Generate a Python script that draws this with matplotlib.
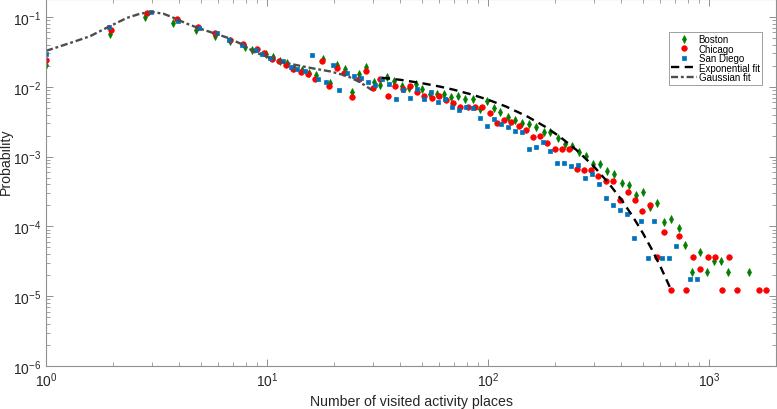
import matplotlib
matplotlib.use('Agg')
import matplotlib.pyplot as plt

plt.rcParams['font.family'] = ['Liberation Sans', 'DejaVu Sans']
plt.rcParams['mathtext.fontset'] = 'custom'
plt.rcParams['mathtext.rm'] = 'Liberation Sans'
plt.rcParams['axes.unicode_minus'] = False

# values
boston_x = [1.0, 1.948, 2.805, 3.767, 4.772, 5.817, 6.80, 7.95, 8.53, 9.90, 10.68, 11.45, 12.36, 13.25,
            14.36, 15.49, 16.66, 17.98, 19.28, 20.80, 22.38, 24.17, 26.08, 27.97, 30.27, 32.46, 34.80,
            37.44, 40.53, 43.59, 46.88, 50.28, 54.25, 58.6, 63.23, 67.81, 72.95, 78.7, 84.9, 91.3, 98.6,
            105.7, 113.3, 122.5, 132.5, 142.1, 153.3, 164.9, 177.9, 190.8, 205.9, 221.4, 239.2, 258.1,
            276.3, 298.7, 321.2, 345.5, 371.6, 401.0, 431.3, 466.0, 499.0, 540.8, 578.5, 621.3, 670.9,
            726.3, 778.7, 837.6, 903.7, 974.3, 1046, 1129, 1213, 1517]
boston_y = [0.0206, 0.0577, 0.100, 0.0829, 0.0659, 0.0541, 0.0459, 0.0373, 0.0332, 0.0293, 0.0268,
            0.0235, 0.0220, 0.0187, 0.0173, 0.0160, 0.0147, 0.0254, 0.0114, 0.0208, 0.0179, 0.00829,
            0.0150, 0.0193, 0.0118, 0.01057, 0.0139, 0.0120, 0.01033, 0.00946, 0.01086, 0.00921,
            0.00787, 0.00794, 0.00781, 0.00713, 0.00736, 0.00674, 0.00667, 0.00477, 0.00621, 0.00490,
            0.00439, 0.00367, 0.00334, 0.00306, 0.00293, 0.00262, 0.00222, 0.00228, 0.00183, 0.00153,
            0.00142, 0.00115, 0.00102, 7.87e-4, 7.87e-4, 6.31e-4, 5.71e-4, 4.25e-4, 3.98e-4, 2.84e-4,
            3.06e-4, 1.90e-4, 2.13e-4, 1.17e-4, 1.27e-4, 9.52e-5, 5.44e-5, 2.20e-5, 4.32e-5, 2.20e-5,
            3.24e-5, 3.24e-5, 2.20e-5, 2.20e-5]

chicago_x = [1.0, 1.968, 2.873, 3.904, 4.873, 5.817, 6.80, 7.81, 8.98, 9.72, 10.50, 11.33, 12.19, 13.15,
             14.21, 15.29, 16.49, 17.79, 19.14, 20.67, 22.31, 24.07, 25.89, 27.85, 30.09, 32.23, 35.02,
             37.83, 40.95, 44.05, 47.38, 51.17, 55.39, 59.6, 64.1, 69.23, 74.7, 80.6, 86.7, 93.6, 101.4,
             109.5, 117.3, 127.1, 137.1, 148.6, 159.4, 171.9, 184.4, 201.0, 216.2, 232.6, 252.0, 271.9,
             292.5, 314.5, 340.1, 366.7, 395.7, 426.9, 459.2, 496.0, 537.0, 579.8, 621.3, 673.1, 726.3,
             784.5, 843.7, 910.5, 982.4, 1064, 1145, 1231, 1332, 1672, 1806]
chicago_y = [0.0243, 0.0646, 0.1152, 0.0946, 0.0720, 0.0591, 0.0465, 0.0416, 0.0352, 0.0309, 0.0254,
             0.0233, 0.0204, 0.0179, 0.0164, 0.0150, 0.0129, 0.0233, 0.01033, 0.0187, 0.0160, 0.00703,
             0.0131, 0.0168, 0.00946, 0.0131, 0.00736, 0.01033, 0.00921, 0.01033, 0.00848, 0.00736,
             0.00681, 0.00736, 0.00656, 0.00577, 0.00518, 0.00506, 0.00506, 0.00506, 0.00416, 0.00299,
             0.00334, 0.00316, 0.00275, 0.00241, 0.00193, 0.00200, 0.00156, 0.00127, 0.00128, 0.00127,
             6.74e-4, 6.41e-4, 6.41e-4, 5.30e-4, 4.54e-4, 4.54e-4, 2.35e-4, 3.06e-4, 2.35e-4, 1.65e-4,
             2.02e-4, 3.61e-5, 8.40e-5, 1.22e-5, 7.20e-5, 1.22e-5, 3.61e-5, 2.45e-5, 3.61e-5, 3.61e-5,
             1.22e-5, 3.61e-5, 1.22e-5, 1.22e-5, 1.22e-5]

sandiego_x = [1.0, 1.928, 2.977, 3.968, 4.924, 5.94, 6.73, 7.68, 8.92, 9.52, 10.32, 11.85, 12.84, 13.63,
              14.86, 15.94, 17.07, 18.49, 19.83, 21.24, 22.94, 24.76, 26.63, 28.56, 30.81, 33.04, 35.39,
              38.23, 41.25, 44.37, 47.58, 51.33, 54.82, 59.09, 63.9, 68.74, 73.37, 79.54, 85.1, 91.3, 98.4,
              105.7, 114.5, 122.5, 131.5, 142.1, 152.2, 164.0, 176.1, 189.4, 203.8, 219.1, 236.7, 254.6,
              272.5, 294.6, 315.6, 339.0, 365.1, 392.8, 422.5, 454.6, 490.9, 525.8, 563.7, 611.0, 654.3,
              706.8, 814.5, 877.7]
sandiego_y = [0.0296, 0.0720, 0.1179, 0.0877, 0.0703, 0.0591, 0.0474, 0.0394, 0.0341, 0.0299, 0.0262,
              0.0233, 0.0193, 0.0179, 0.0169, 0.0284, 0.0129, 0.0118, 0.0208, 0.00897, 0.0160, 0.0142,
              0.01345, 0.0118, 0.01057, 0.0128, 0.01079, 0.00658, 0.00906, 0.00697, 0.00936, 0.00658,
              0.00840, 0.00597, 0.00658, 0.00518, 0.00469, 0.00513, 0.00490, 0.00361, 0.00277, 0.00346,
              0.00291, 0.00268, 0.00233, 0.00222, 0.00127, 0.00139, 0.00163, 0.00121, 8.02e-4, 8.02e-4,
              7.36e-4, 7.61e-4, 4.90e-4, 5.71e-4, 4.07e-4, 2.54e-4, 2.04e-4, 1.71e-4, 1.53e-4, 6.90e-5,
              1.19e-4, 3.49e-5, 1.19e-4, 3.49e-5, 3.49e-5, 5.18e-5, 1.75e-5, 1.75e-5]

# fitted curves, read at a number of points
exp_x = [33, 40, 50, 60, 70, 85, 100, 120, 150, 180, 210, 250, 300, 350, 400, 450, 500, 550, 600, 660, 670]
exp_y = [0.01345, 0.01259, 0.01128, 0.01011, 0.00906, 0.00768, 0.00651, 0.00523, 0.00376, 0.00270,
         0.00194, 0.00125, 7.24e-4, 4.17e-4, 2.41e-4, 1.39e-4, 8.02e-5, 4.63e-5, 2.67e-5, 1.38e-5, 1.22e-5]

gauss_x = [1.0, 1.329, 1.581, 1.914, 2.318, 2.663, 3.008, 3.395, 3.767, 4.333, 4.976, 5.697, 6.57,
           7.548, 8.825, 9.623, 10.53, 11.45, 13.63, 16.20, 19.28, 22.94, 26.35, 29.77]
gauss_y = [0.0327, 0.0439, 0.0530, 0.0720, 0.0968, 0.1115, 0.1179, 0.1115, 0.0977, 0.0802, 0.0681,
           0.0591, 0.0509, 0.0418, 0.0311, 0.0282, 0.0251, 0.0228, 0.0204, 0.0183, 0.0166, 0.01436,
           0.0116, 0.00897]

fig = plt.figure(figsize=(7.77, 4.10), dpi=100)
ax = fig.add_axes([46 / 777, 43 / 410, 730 / 777, 367 / 410])

ax.plot(boston_x, boston_y, 'd', color='#008000', markersize=4, markeredgewidth=0.5, label='Boston')
ax.plot(chicago_x, chicago_y, 'o', color='#FF0000', markersize=4, markeredgewidth=0.5, label='Chicago')
ax.plot(sandiego_x, sandiego_y, 's', color='#0072BD', markersize=3.3, markeredgewidth=0.5, label='San Diego')
ax.plot(exp_x, exp_y, color='black', linewidth=1.7, dashes=(3.5, 2.3), label='Exponential fit')
ax.plot(gauss_x, gauss_y, color='#4D4D4D', linewidth=1.7, dashes=(3, 1.2, 1.2, 1.2), label='Gaussian fit')

ax.set_xscale('log')
ax.set_yscale('log')
ax.set_xlim(1, 2000)
ax.set_ylim(1e-6, 0.181)

ax.set_xlabel('Number of visited activity places', fontsize=10.2, color='#262626', labelpad=3)
ax.set_ylabel('Probability', fontsize=10.2, color='#262626')
ax.yaxis.set_label_coords(-0.0452, 0.56)

ax.tick_params(which='both', direction='in', top=True, right=True, color='#909090',
               labelcolor='#262626', labelsize=10)
ax.tick_params(which='major', length=5, width=0.7)
ax.tick_params(which='minor', length=2.7, width=0.6)
for s in ax.spines.values():
    s.set_color('#909090')
    s.set_linewidth(0.8)

leg = ax.legend(loc='upper right', bbox_to_anchor=(0.981, 0.911), fontsize=7, frameon=True,
                fancybox=False, framealpha=1, edgecolor='#909090', handlelength=2.6,
                handletextpad=0.2, labelspacing=-0.05, borderpad=0.25, borderaxespad=0)
leg.get_frame().set_linewidth(0.6)

fig.savefig('out.png', dpi=100)
